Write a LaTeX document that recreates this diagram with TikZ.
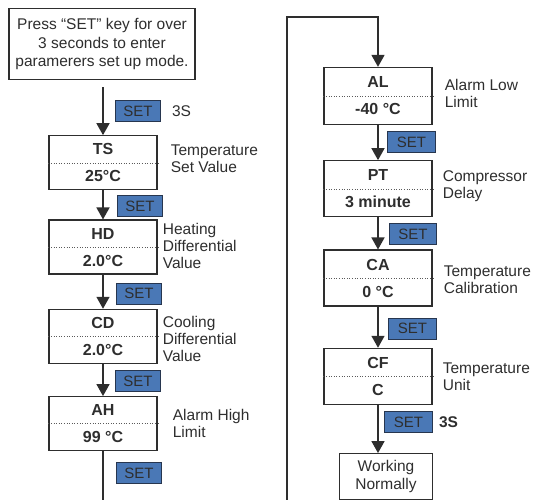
\documentclass[tikz,border=0pt]{standalone}
\usepackage{fontspec}
\setmainfont{Liberation Sans}
\usetikzlibrary{positioning,arrows.meta}
\definecolor{keyBlue}{HTML}{4A78B6}
\definecolor{keyEdge}{HTML}{27364F}
\definecolor{inkGray}{HTML}{2E2E2E}
\definecolor{boxGray}{HTML}{5A5A5A}

\begin{document}
\begin{tikzpicture}[x=1pt, y=1pt,
        param/.style={
            % The shape
            rectangle, minimum width=108pt, minimum height=54pt, inner sep=0pt,
            % The border
            line width=1.3pt,
            draw = boxGray,
            % The color
            color = inkGray,
            % Font
            font = \bfseries\fontsize{16}{27}\selectfont, align=center
        },
        textbox/.style={
            % The shape
            rectangle, inner sep=0pt,
            % The border
            line width=1.3pt,
            draw = boxGray,
            % The color
            color = inkGray,
            % Font
            font = \fontsize{15.5}{18.5}\selectfont, align=center
        },
        note/.style={
            % The color
            color = inkGray, inner sep=0pt,
            % Font
            font = \fontsize{15.5}{17}\selectfont, align=left
        },
        setkey/.style={
            % The shape
            rectangle, minimum width=45pt, minimum height=21pt, inner sep=0pt,
            % The border
            line width=0.8pt,
            draw = keyEdge,
            % The color
            fill = keyBlue, text = inkGray,
            % Font
            font = \fontsize{15}{15}\selectfont
        },
        flow/.style={line width=1.6pt, draw=inkGray, -{Triangle[width=13pt,length=12pt]}},
        divider/.style={dotted, line width=0.6pt, draw=boxGray}
    ]
        \useasboundingbox (0,0) rectangle (534,-499);
        \clip (0,0) rectangle (534,-499);

        % left column
        \node (enterSetup) [textbox,minimum width=186pt,minimum height=71pt] at (102,-44) {Press “SET” key for over\\ 3 seconds to enter\\ paramerers set up mode.};

        \node (tempSet) [param,below=55pt of enterSetup,xshift=1pt] {TS\\25°C};
        \draw[divider] (tempSet.west) -- (tempSet.east);
        \draw[flow,shorten <=7pt] (enterSetup.south -| tempSet.north) -- (tempSet.north);
        \node (set_start) [setkey,below right=20pt and 12pt of tempSet.north |- enterSetup.south] {SET};
        \node (hold_in) [note,right=11pt of set_start] {3S};
        \node (tempSetNote) [note,right=13pt of tempSet,yshift=4pt] {Temperature\\ Set Value};

        \node (heatDiff) [param,below=29pt of tempSet] {HD\\2.0°C};
        \draw[divider] (heatDiff.west) -- (heatDiff.east);
        \path (tempSet) edge[flow] (heatDiff);
        \node (set_ts) [setkey,below right=5pt and 14pt of tempSet.south] {SET};
        \node (heatDiffNote) [note,right=5pt of heatDiff,yshift=1pt] {Heating\\ Differential\\ Value};

        \node (coolDiff) [param,below=34pt of heatDiff] {CD\\2.0°C};
        \draw[divider] (coolDiff.west) -- (coolDiff.east);
        \path (heatDiff) edge[flow] (coolDiff);
        \node (set_hd) [setkey,below right=8pt and 13pt of heatDiff.south] {SET};
        \node (coolDiffNote) [note,right=5pt of coolDiff,yshift=-3pt] {Cooling\\ Differential\\ Value};

        \node (alarmHigh) [param,below=32pt of coolDiff] {AH\\99 °C};
        \draw[divider] (alarmHigh.west) -- (alarmHigh.east);
        \path (coolDiff) edge[flow] (alarmHigh);
        \node (set_cd) [setkey,below right=6pt and 12pt of coolDiff.south] {SET};
        \node (alarmHighNote) [note,right=15pt of alarmHigh] {Alarm High\\ Limit};
        \node (set_ah) [setkey,below right=11pt and 13pt of alarmHigh.south] {SET};

        % right column
        \node (alarmLow) [param,minimum height=57pt] at (378,-96) {AL\\-40 °C};
        \draw[divider] (alarmLow.west) -- (alarmLow.east);
        \node (alarmLowNote) [note,right=12pt of alarmLow,yshift=3pt] {Alarm Low\\ Limit};
        \coordinate (loopTop) at (287,-17);
        \draw[flow] (alarmHigh.south) -- ++(0,-70) -| (loopTop) -| (alarmLow.north);

        \node (compDelay) [param,minimum height=56pt,below=35pt of alarmLow] {PT\\3 minute};
        \draw[divider] (compDelay.west) -- (compDelay.east);
        \path (alarmLow) edge[flow] (compDelay);
        \node (set_al) [setkey,minimum width=48pt,below right=6pt and 9pt of alarmLow.south] {SET};
        \node (compDelayNote) [note,right=10pt of compDelay,yshift=3pt] {Compressor\\ Delay};

        \node (tempCal) [param,minimum height=56pt,below=32pt of compDelay] {CA\\0 °C};
        \draw[divider] (tempCal.west) -- (tempCal.east);
        \path (compDelay) edge[flow] (tempCal);
        \node (set_pt) [setkey,minimum width=47pt,below right=6pt and 11pt of compDelay.south] {SET};
        \node (tempCalNote) [note,right=11pt of tempCal,yshift=-1.5pt] {Temperature\\ Calibration};

        \node (tempUnit) [param,minimum height=56pt,below=41pt of tempCal] {CF\\C};
        \draw[divider] (tempUnit.west) -- (tempUnit.east);
        \path (tempCal) edge[flow] (tempUnit);
        \node (set_ca) [setkey,minimum width=48pt,below right=11pt and 10pt of tempCal.south] {SET};
        \node (tempUnitNote) [note,right=10pt of tempUnit] {Temperature\\ Unit};

        \node (workNormal) [textbox,minimum width=93pt,minimum height=46pt,below=48pt of tempUnit,xshift=8pt] {Working\\ Normally};
        \draw[flow] (tempUnit.south) -- (tempUnit.south |- workNormal.north);
        \node (set_cf) [setkey,minimum width=48pt,below right=6pt and 6pt of tempUnit.south] {SET};
        \node (hold_out) [note,font=\bfseries\fontsize{15.5}{17}\selectfont,right=6pt of set_cf] {3S};

    \end{tikzpicture}
\end{document}
